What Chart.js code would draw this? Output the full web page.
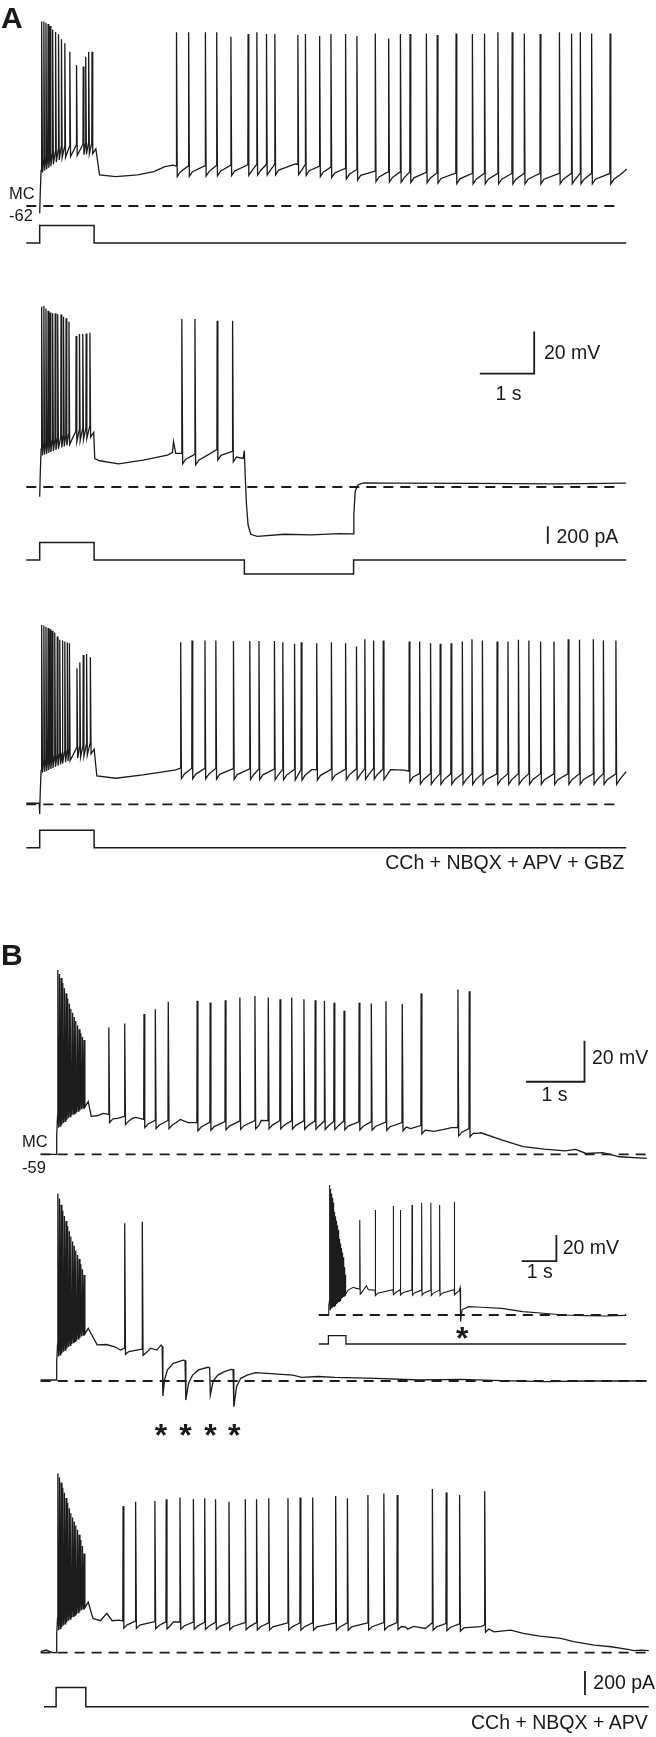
<!DOCTYPE html>
<html>
<head>
<meta charset="utf-8">
<script src="https://cdn.jsdelivr.net/npm/chart.js@4.4.1/dist/chart.umd.min.js"></script>
<style>
  body { margin: 0; background: #fff; }
  #fig { position: relative; width: 656px; height: 1737px; overflow: hidden;
         font-family: "Liberation Sans", Arial, sans-serif; color: #1a1a1a; }
  #fig canvas { position: absolute; left: 0; }
  .t { position: absolute; white-space: nowrap; line-height: 1; z-index: 2; }
</style>
</head>
<body>
<div id="fig"></div>
<script>
// ---------- data (time in s from stimulus onset, voltage in mV, current in pA) ----------
const restA = -62;
const restB = -59;

// A1
const a1BurstT = [0.038, 0.077, 0.115, 0.154, 0.192, 0.238, 0.292, 0.346, 0.4, 0.462, 0.554, 0.677, 0.8, 0.846, 0.9, 0.962];
const a1BurstV = [25.8, 25.8, 25.3, 24.7, 23.7, 22.1, 20.9, 19.8, 17.4, 15.5, 11.5, 5.1, 4.4, 9.1, 11.5, 11.5];
const a1SpikeT = [2.515, 2.738, 3.046, 3.254, 3.515, 3.831, 3.992, 4.169, 4.323, 4.746, 4.885, 5.146, 5.354, 5.623, 5.831,
  6.169, 6.415, 6.631, 6.808, 7.108, 7.308, 7.654, 7.954, 8.177, 8.423, 8.685, 8.908, 9.2, 9.554, 9.777, 9.938, 10.146, 10.485];
const a1SpikeV = [20.7, 20.7, 20.7, 20.7, 18.6, 19.9, 20.7, 19.9, 19.9, 19.4, 19.9, 19.0, 19.9, 19.9, 19.0,
  20.2, 17.8, 19.9, 19.9, 20.2, 19.4, 20.2, 19.9, 20.2, 20.7, 20.7, 20.2, 19.9, 20.7, 20.2, 20.7, 20.2, 20.2];
const a1Base = [[0, -65.5], [0.008, -58], [0.025, -45], [0.038, -41], [0.4, -34], [0.962, -32], [0.995, -30.6], [1.01, -45.6],
  [1.1, -47.2], [1.4, -48], [1.8, -47.2], [2.1, -45.6], [2.3, -43.3], [2.45, -42.5], [2.515, -43], [4.7, -42], [6.2, -45.5],
  [8, -46.5], [10.485, -46.5], [10.7, -46.5], [10.79, -44.4]];
const a1Stim = [[-0.246, 0], [0, 0], [0, 200], [1, 200], [1, 0], [10.78, 0]];

// A2
const a2BurstT = [0.038, 0.077, 0.115, 0.154, 0.192, 0.238, 0.285, 0.331, 0.392, 0.438, 0.485, 0.538, 0.669, 0.731, 0.792, 0.854, 0.923];
const a2BurstV = [23.8, 24.2, 23.0, 21.9, 21.1, 20.7, 20.7, 20.3, 20.2, 19.1, 18.3, 16.7, 9.9, 10.8, 10.8, 11.1, 11.5];
const a2SpikeT = [2.615, 2.854, 3.262, 3.546];
const a2SpikeV = [18, 18, 17.2, 17.2];
const a2Base = [[0, -66.6], [0.008, -58], [0.025, -44], [0.038, -42], [0.5, -37], [0.95, -33], [0.995, -30.1], [1.012, -48.5],
  [1.1, -49.5], [1.45, -51], [1.9, -49.2], [2.35, -46.8], [2.44, -45.5], [2.46, -40.5], [2.5, -46], [2.6, -46],
  [2.854, -46.5], [3.262, -44.2], [3.546, -45], [3.74, -48.4], [3.762, -44.7], [3.775, -55], [3.8, -70], [3.83, -80],
  [3.88, -84.5], [4.0, -85.5], [4.5, -84.5], [5.0, -84.8], [5.5, -84.2], [5.765, -84.3], [5.775, -75], [5.8, -64],
  [5.85, -61], [5.95, -60], [6.5, -60.2], [8, -60.3], [9.5, -60.5], [10.78, -60.2]];
const a2Stim = [[-0.246, 0], [0, 0], [0, 200], [1, 200], [1, 0], [3.762, 0], [3.762, -160], [5.77, -160], [5.77, 0], [10.78, 0]];

// A3
const a3BurstT = [0.038, 0.077, 0.115, 0.154, 0.192, 0.231, 0.277, 0.323, 0.369, 0.415, 0.462, 0.508, 0.546, 0.685, 0.738, 0.8, 0.862, 0.931];
const a3BurstV = [23.4, 23.1, 22.6, 22.0, 21.4, 20.7, 19.8, 17.9, 16.3, 16.0, 15.5, 15.0, 14.7, 2.8, 5.5, 9.1, 9.6, 8.0];
const a3SpikeT = [2.592, 2.8, 3.038, 3.238, 3.562, 3.862, 4.031, 4.315, 4.469, 4.685, 4.808, 5.092, 5.362, 5.623, 5.823,
  5.977, 6.138, 6.315, 6.792, 6.985, 7.185, 7.362, 7.562, 7.769, 7.946, 8.138, 8.408, 8.608, 8.8, 8.992, 9.208,
  9.454, 9.715, 9.923, 10.177, 10.362, 10.592];
const a3SpikeV = [15.2, 16.0, 16.0, 16.0, 15.8, 15.8, 15.8, 15.8, 15.2, 14.4, 15.2, 14.7, 15.2, 14.7, 13.1,
  16.6, 16.0, 16.0, 15.5, 15.5, 14.7, 14.4, 14.7, 15.5, 16.6, 16.0, 15.5, 15.5, 16.3, 16.0, 15.5,
  15.5, 16.6, 16.3, 16.6, 16.0, 16.0];
const a3Base = [[-0.246, -61.5], [-0.01, -61.5], [0, -66.6], [0.008, -58], [0.025, -46], [0.038, -42], [0.5, -36.5],
  [0.931, -33], [0.995, -24.2], [1.01, -48], [1.05, -48.5], [1.4, -49.6], [1.9, -48], [2.3, -46.4], [2.5, -45.6],
  [2.592, -44.8], [5, -45.5], [6.2, -45], [6.45, -45.5], [6.7, -45.7], [7, -47.5], [10.592, -47.5], [10.78, -46.4]];
const a3Stim = [[-0.246, 0], [0, 0], [0, 200], [1, 200], [1, 0], [10.78, 0]];

// B1
const b1BurstT = [0.03, 0.058, 0.086, 0.114, 0.142, 0.17, 0.198, 0.226, 0.254, 0.282, 0.31, 0.338, 0.366, 0.394, 0.422, 0.45, 0.478];
const b1BurstV = [30.9, 29, 27, 24.5, 22, 19.5, 17, 14.5, 12, 10, 8, 6, 4, 2, 0, -1.7, -3.3];
const b1SpikeT = [0.9, 1.171, 1.5, 1.693, 1.914, 2.407, 2.629, 2.886, 3.136, 3.393, 3.621, 3.821, 4.021, 4.229, 4.421,
  4.579, 4.743, 4.914, 5.171, 5.379, 5.629, 5.907, 6.229, 6.857, 7.05];
const b1SpikeV = [2.9, 4.8, 9.4, 11.7, 15.4, 15.9, 15.1, 16.2, 17.5, 18.2, 17.5, 16.6, 17.5, 16.6, 16.2,
  15.9, 14.9, 11.0, 14.9, 14.6, 15.6, 14.3, 19.5, 21.4, 20.5];
const b1Base = [[-0.264, -59], [0, -59], [0.01, -50], [0.02, -43], [0.03, -40], [0.25, -34], [0.478, -30], [0.5, -31],
  [0.51, -28.5], [0.53, -39.5], [0.6, -40.5], [0.7, -40.2], [0.8, -39], [0.9, -39.5], [1.05, -41.5], [1.171, -40.5],
  [1.3, -41.5], [1.36, -41], [1.5, -42], [1.693, -42.5], [1.914, -42.5], [2.05, -43.5], [2.12, -42], [2.25, -43.5],
  [2.407, -43.5], [3.5, -42.5], [4.9, -43], [5.907, -43.5], [6.05, -46.5], [6.229, -45], [6.45, -47.8], [6.6, -47],
  [6.75, -46], [6.857, -46], [7.05, -46.5], [7.19, -48.8], [7.25, -48.5], [7.614, -52.1], [7.971, -55.3],
  [8.329, -56.5], [8.686, -57.3], [8.864, -56.6], [9.043, -58.6], [9.329, -58.2], [9.614, -60.2], [10.079, -61]];

// B2 (main)
const b2BurstT = [0.03, 0.058, 0.086, 0.114, 0.142, 0.17, 0.198, 0.226, 0.254, 0.282, 0.31, 0.338, 0.366, 0.394, 0.422, 0.45, 0.478];
const b2BurstV = [32.5, 30, 27, 24, 21.5, 19, 16.5, 14, 11.5, 9, 7, 4.5, 2.5, 0.5, -2, -4.5, -7.3];
const b2SpikeT = [1.171, 1.471];
const b2SpikeV = [17.9, 18.7];
const b2Base = [[-0.264, -58.5], [0, -58.5], [0.01, -50], [0.02, -44], [0.03, -41], [0.25, -35], [0.478, -30],
  [0.5, -29.5], [0.52, -39], [0.55, -40.6], [0.7, -41.4], [0.86, -41.2], [1.0, -42.3], [1.1, -43.9], [1.171, -43],
  [1.471, -43.5], [1.614, -43], [1.72, -43.9], [1.793, -41.4], [1.81, -42], [1.822, -66.3], [1.85, -58.5],
  [1.9, -53.6], [2.0, -50.4], [2.17, -48.8], [2.2, -49], [2.214, -68.3], [2.26, -60.1], [2.33, -56.1],
  [2.43, -53.6], [2.59, -52.3], [2.62, -52.5], [2.632, -65.8], [2.68, -59], [2.76, -56.1], [2.87, -54.4],
  [2.99, -53.3], [3.02, -53.4], [3.033, -71.5], [3.08, -61.8], [3.15, -57.7], [3.26, -56.1], [3.4, -54.9],
  [3.6, -55.3], [4.04, -56.1], [4.19, -57.2], [4.47, -56.8], [4.76, -57.2], [5.47, -57.7], [6.19, -58.5],
  [6.9, -58.2], [7.61, -58.8], [8.33, -59.3], [9.04, -59], [10.08, -59]];

// B2 inset
const inBurstT = [0.036, 0.06, 0.084, 0.108, 0.133, 0.157, 0.181, 0.205, 0.229, 0.253, 0.277, 0.301, 0.325, 0.349,
  0.373, 0.398, 0.422, 0.446, 0.47, 0.494];
const inBurstV = [41, 38, 34.5, 31, 27.5, 24, 20.5, 17, 13.5, 10, 6.5, 3, -0.5, -4, -7.5, -11, -14.5, -18, -22, -28];
const inSpikeT = [0.904, 1.349, 1.867, 2.072, 2.41, 2.687, 2.952, 3.205, 3.627];
const inSpikeV = [14.1, 21.8, 24.8, 21.8, 25.6, 27.4, 27.4, 25.6, 28.2];
const inBase = [[-0.277, -59], [0, -59], [0.01, -52], [0.036, -48], [0.25, -43], [0.494, -36], [0.54, -36.7],
  [0.72, -37.7], [0.8, -38.5], [0.904, -39], [1.096, -36.5], [1.15, -39.5], [1.349, -40], [1.867, -39.5],
  [2.41, -39.8], [3.205, -40], [3.627, -39.5], [3.77, -40.5], [3.795, -38], [3.81, -64.1], [3.85, -55],
  [4.036, -52.6], [4.4, -53], [5.0, -53.9], [5.6, -56.4], [6.2, -57.7], [6.8, -59], [7.4, -59.5], [8.0, -59.8], [8.58, -59.3]];
const inStim = [[-0.277, 0], [0, 0], [0, 200], [0.506, 200], [0.506, 0], [8.58, 0]];

// B3
const b3BurstT = [0.03, 0.058, 0.086, 0.114, 0.142, 0.17, 0.198, 0.226, 0.254, 0.282, 0.31, 0.338, 0.366, 0.394, 0.422, 0.45, 0.478];
const b3BurstV = [28.5, 26.5, 24, 21.5, 19, 16.5, 14, 11.5, 9, 7, 5, 3, 1, -1.5, -4, -7, -10.6];
const b3SpikeT = [1.143, 1.357, 1.686, 1.879, 2.114, 2.343, 2.536, 2.721, 2.95, 3.229, 3.421, 3.629, 3.957, 4.164,
  4.379, 4.771, 4.971, 5.321, 5.593, 5.821, 6.421, 6.657, 6.886, 7.314];
const b3SpikeV = [12.5, 14.6, 15, 15.8, 16.7, 15.8, 16.3, 15.8, 14.6, 15.8, 15.8, 16.3, 16.3, 16.7,
  16.7, 17.4, 16.3, 17.9, 18.7, 17.9, 20.8, 19.2, 17.9, 19.8];
const b3Base = [[-0.264, -58.5], [-0.171, -57.7], [-0.064, -59], [0, -59], [0.01, -50], [0.02, -45], [0.03, -42],
  [0.25, -36], [0.478, -31], [0.5, -31], [0.515, -36], [0.529, -41.5], [0.629, -42.3], [0.757, -43.4], [0.864, -39.8],
  [0.957, -43.4], [1.079, -43.1], [1.143, -43.5], [2, -44], [3, -44.3], [4, -44.5], [5, -44.5], [5.821, -44.3],
  [5.9, -47.7], [5.97, -46.5], [6.0, -47.5], [6.1, -46.2], [6.3, -47.2], [6.421, -44.5], [6.886, -45], [7.0, -46.8],
  [7.25, -46.3], [7.314, -45.5], [7.471, -48.8], [7.757, -48], [7.971, -49.6], [8.257, -50.9], [8.614, -52],
  [8.829, -53.6], [9.186, -55.3], [9.471, -56.1], [9.757, -57.4], [9.864, -58], [9.971, -57.7], [10.114, -58]];
const b3Stim = [[-0.207, 0], [0, 0], [0, 160], [0.507, 160], [0.507, 0], [10.114, 0]];

// ---------- helpers ----------
const fig = document.getElementById('fig');
const INK = '#1c1c1c';

function at(base, t) {
  for (let i = 1; i < base.length; i++) {
    if (t <= base[i][0]) {
      const [t0, v0] = base[i - 1], [t1, v1] = base[i];
      return t1 === t0 ? v1 : v0 + (v1 - v0) * (t - t0) / (t1 - t0);
    }
  }
  return base[base.length - 1][1];
}

// membrane trace: slow baseline points plus spikes riding on it
function trace(base, groups) {
  const spikes = [];
  groups.forEach(g => g.t.forEach((t, i) => spikes.push({ t, v: g.v[i], ahp: g.ahp })));
  spikes.sort((a, b) => a.t - b.t);
  const pts = [];
  base.forEach(([t, v]) => {
    if (!spikes.some(s => t > s.t - 0.01 && t < s.t + 0.08)) pts.push({ x: t, y: v });
  });
  spikes.forEach((s, i) => {
    const b = at(base, s.t);
    const next = spikes[i + 1] ? spikes[i + 1].t : Infinity;
    pts.push({ x: s.t - 0.005, y: b }, { x: s.t, y: s.v }, { x: s.t + 0.013, y: b - s.ahp });
    if (next - s.t > 0.15) pts.push({ x: s.t + 0.07, y: b - s.ahp * 0.55 });
  });
  return pts.sort((a, b) => a.x - b.x);
}

const xy = arr => arr.map(([x, y]) => ({ x, y }));

function line(data, opt = {}) {
  return Object.assign({
    data, borderColor: INK, borderWidth: 1.3, pointRadius: 0, fill: false, yAxisID: 'y'
  }, opt);
}
function rest(v, t0, t1) {
  return line([{ x: t0, y: v }, { x: t1, y: v }], { borderWidth: 1.8, borderDash: [10, 7] });
}
// 1 s / 20 mV corner bar, corner given in data units
function mvBar(t, v) {
  return line([{ x: t - 1, y: v }, { x: t, y: v }, { x: t, y: v + 20 }], { borderWidth: 1.8 });
}
function paBar(t, i) {
  return line([{ x: t, y: i }, { x: t, y: i + 200 }], { borderWidth: 1.8, yAxisID: 'yI' });
}

function panel(L, datasets) {
  const c = document.createElement('canvas');
  c.width = 656; c.height = L.h;
  c.style.top = L.top + 'px';
  fig.appendChild(c);
  const stimY = L.stimY ?? L.top + L.h, si = L.si ?? 1;
  new Chart(c, {
    type: 'line',
    data: { datasets },
    options: {
      responsive: false, animation: false, devicePixelRatio: 1, events: [],
      layout: { padding: 0 },
      plugins: { legend: { display: false }, tooltip: { enabled: false } },
      elements: { point: { radius: 0 }, line: { tension: 0 } },
      scales: {
        x: { type: 'linear', display: false, min: -L.x0 / L.sx, max: (656 - L.x0) / L.sx },
        y: { display: false, min: L.rest - (L.top + L.h - L.restY) / L.sv, max: L.rest + (L.restY - L.top) / L.sv },
        yI: { display: false, min: -(L.top + L.h - stimY) / si, max: (stimY - L.top) / si }
      }
    }
  });
}

function label(text, x, base, size, opt = {}) {
  const d = document.createElement('div');
  d.className = 't';
  d.textContent = text;
  d.style.fontSize = size + 'px';
  d.style.top = (base - 0.8465 * size) + 'px';
  if (opt.bold) d.style.fontWeight = 'bold';
  if (opt.align === 'right') d.style.right = (656 - x) + 'px';
  else if (opt.align === 'center') { d.style.left = x + 'px'; d.style.transform = 'translateX(-50%)'; }
  else d.style.left = x + 'px';
  fig.appendChild(d);
}

// ---------- layout (pixels) ----------
const A = { x0: 39.7, sx: 54.4, sv: 2.1, si: 0.0875, rest: restA };
const B = { x0: 56.1, sx: 58.6, sv: 2.05, si: 0.12, rest: restB };

// A1
panel({ ...A, top: 0, h: 262, restY: 206, stimY: 243 }, [
  line(trace(a1Base, [{ t: a1BurstT, v: a1BurstV, ahp: 5 }, { t: a1SpikeT, v: a1SpikeV, ahp: 5 }])),
  rest(restA, -0.246, 10.69),
  line(xy(a1Stim), { yAxisID: 'yI', borderWidth: 1.5 })
]);
// A2
panel({ ...A, top: 262, h: 320, restY: 487, stimY: 560 }, [
  line(trace(a2Base, [{ t: a2BurstT, v: a2BurstV, ahp: 5 }, { t: a2SpikeT, v: a2SpikeV, ahp: 5 }])),
  rest(restA, -0.246, 10.69),
  line(xy(a2Stim), { yAxisID: 'yI', borderWidth: 1.5 }),
  mvBar(9.09, -8),
  paBar(9.34, 185)
]);
// A3
panel({ ...A, top: 582, h: 300, restY: 804.3, stimY: 847.7 }, [
  line(trace(a3Base, [{ t: a3BurstT, v: a3BurstV, ahp: 5 }, { t: a3SpikeT, v: a3SpikeV, ahp: 5 }])),
  rest(restA, -0.246, 10.69),
  line(xy(a3Stim), { yAxisID: 'yI', borderWidth: 1.5 })
]);
// B1
panel({ ...B, top: 930, h: 250, restY: 1154.3 }, [
  line(trace(b1Base, [{ t: b1BurstT, v: b1BurstV, ahp: 6 }, { t: b1SpikeT, v: b1SpikeV, ahp: 4 }])),
  rest(restB, -0.264, 10.079),
  mvBar(9.017, -23.6)
]);
// B2
panel({ ...B, top: 1180, h: 250, restY: 1381 }, [
  line(trace(b2Base, [{ t: b2BurstT, v: b2BurstV, ahp: 6 }, { t: b2SpikeT, v: b2SpikeV, ahp: 3 }])),
  rest(restB, -0.264, 10.079)
]);
// B2 inset
panel({ x0: 328.4, sx: 34.7, sv: 1.3, si: 0.0415, rest: restB, top: 1180, h: 180, restY: 1315, stimY: 1344 }, [
  line(trace(inBase, [{ t: inBurstT, v: inBurstV, ahp: 7 }, { t: inSpikeT, v: inSpikeV, ahp: 4 }]), { borderWidth: 1.1 }),
  rest(restB, -0.277, 8.58),
  line(xy(inStim), { yAxisID: 'yI', borderWidth: 1.3 }),
  mvBar(6.57, -17.5)
]);
// B3
panel({ ...B, top: 1430, h: 300, restY: 1652.7, stimY: 1706.7 }, [
  line(trace(b3Base, [{ t: b3BurstT, v: b3BurstV, ahp: 6 }, { t: b3SpikeT, v: b3SpikeV, ahp: 3.5 }])),
  rest(restB, -0.264, 10.114),
  line(xy(b3Stim), { yAxisID: 'yI', borderWidth: 1.5 }),
  paBar(9.025, 97)
]);

// ---------- text ----------
const F = 19.5;
label('A', 1, 28.5, 30, { bold: true });
label('MC', 9, 199.3, 16.5);
label('-62', 9, 220.5, 16.5);
label('20 mV', 544, 359.5, F);
label('1 s', 508.4, 400.5, F, { align: 'center' });
label('200 pA', 556.5, 543.3, F);
label('CCh + NBQX + APV + GBZ', 624.2, 869.3, F, { align: 'right' });

label('B', 1, 965.5, 30, { bold: true });
label('MC', 22, 1147.3, 16.5);
label('-59', 22, 1172.7, 16.5);
label('20 mV', 592, 1065, F);
label('1 s', 554.4, 1101.7, F, { align: 'center' });
label('20 mV', 562.7, 1255, F);
label('1 s', 539.7, 1279, F, { align: 'center' });
label('*', 462.3, 1349, 32, { bold: true, align: 'center' });
[161.1, 185.4, 210.5, 234.3].forEach(x => label('*', x, 1446, 32, { bold: true, align: 'center' }));
label('200 pA', 593.3, 1690, F);
label('CCh + NBQX + APV', 647.7, 1729.3, F, { align: 'right' });
</script>
</body>
</html>
